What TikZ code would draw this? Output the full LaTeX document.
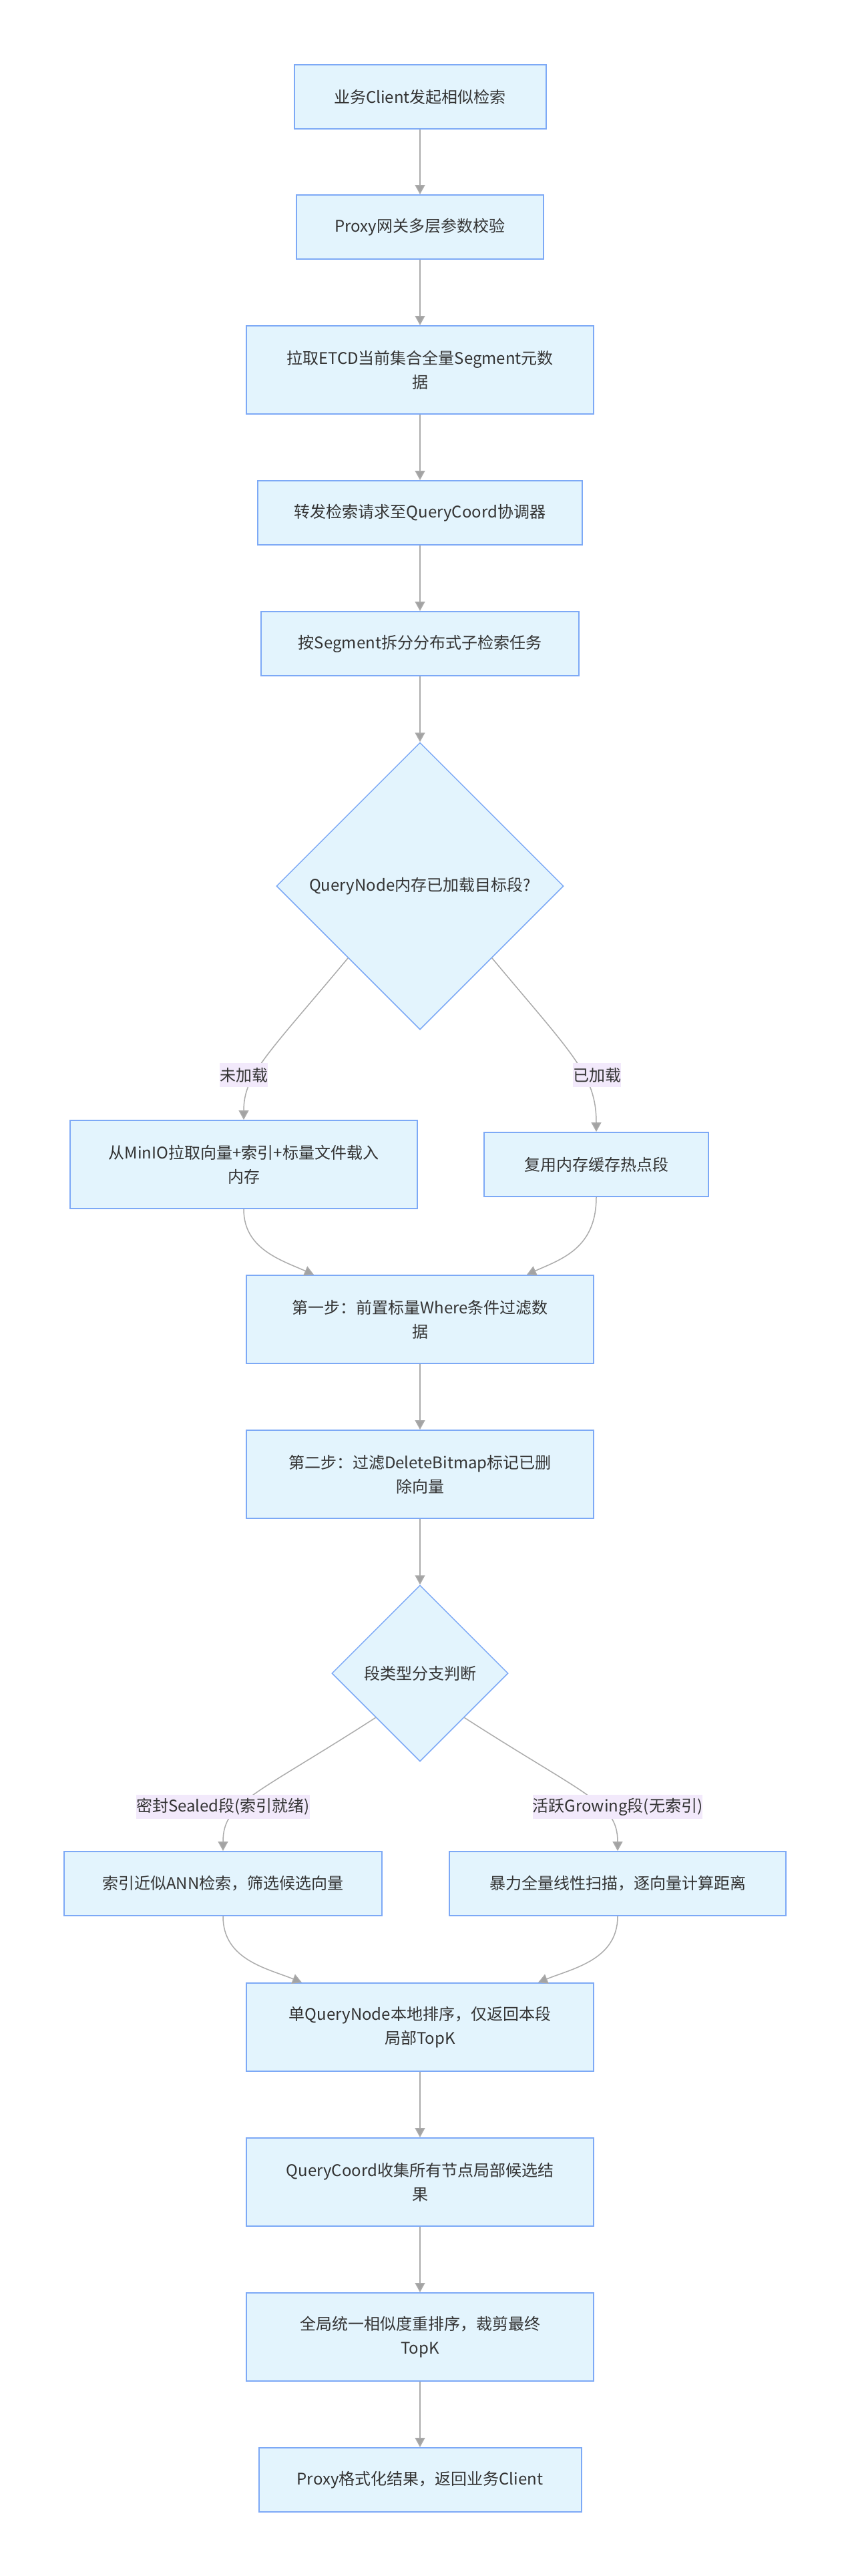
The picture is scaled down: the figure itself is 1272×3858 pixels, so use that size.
\documentclass[tikz,border=0pt]{standalone}
\usepackage{fontspec}
\setmainfont{Noto Sans CJK SC}
\usepackage{tikz}
\usetikzlibrary{arrows.meta,shapes.geometric}
\definecolor{boxfill}{HTML}{E3F4FD}
\definecolor{boxline}{HTML}{7DA9F6}
\definecolor{edgeline}{HTML}{ABABAB}
\definecolor{tipfill}{HTML}{A3A3A3}
\definecolor{labelfill}{HTML}{F2E9FB}
\definecolor{inkgrey}{HTML}{333333}
\tikzset{box/.style={draw=boxline,fill=boxfill,line width=2pt,text=inkgrey,align=center,inner sep=0pt,minimum height=96pt,font=\fontsize{24}{36}\selectfont}}
\tikzset{twoline/.style={box,minimum height=132pt}}
\tikzset{decide/.style={diamond,aspect=1,draw=boxline,fill=boxfill,line width=1.5pt,text=inkgrey,inner sep=0pt,font=\fontsize{24}{36}\selectfont}}
\tikzset{elabel/.style={fill=labelfill,text=inkgrey,inner sep=0pt,minimum height=36pt,font=\fontsize{24}{36}\selectfont}}
\tikzset{flow/.style={draw=edgeline,line width=1.5pt,-{Triangle[width=15pt,length=14pt,fill=tipfill]}}}

\begin{document}
\begin{tikzpicture}[x=1pt,y=-1pt]
\useasboundingbox (0,0) rectangle (1272,3858);
% main column
\node[box,minimum width=377pt] (client) at (629,145) {业务Client发起相似检索};
\node[box,minimum width=370pt] (proxy) at (629,340) {Proxy网关多层参数校验};
\node[twoline,minimum width=520pt] (etcd) at (629,554) {拉取ETCD当前集合全量Segment元数\\据};
\node[box,minimum width=486pt] (coord) at (629,768) {转发检索请求至QueryCoord协调器};
\node[box,minimum width=476pt] (split) at (629,964) {按Segment拆分分布式子检索任务};
\node[decide,minimum size=430pt] (loaded) at (629,1327) {QueryNode内存已加载目标段?};
% load branch
\node[twoline,minimum width=520pt] (minio) at (365,1744) {从MinIO拉取向量+索引+标量文件载入\\内存};
\node[box,minimum width=336pt] (cache) at (893,1744) {复用内存缓存热点段};
\node[twoline,minimum width=520pt] (where) at (629,1976) {第一步：前置标量Where条件过滤数\\据};
\node[twoline,minimum width=520pt] (bitmap) at (629,2208) {第二步：过滤DeleteBitmap标记已删\\除向量};
\node[decide,minimum size=264pt] (segtype) at (629,2506) {段类型分支判断};
% segment branch
\node[box,minimum width=476pt] (ann) at (334,2821) {索引近似ANN检索，筛选候选向量};
\node[box,minimum width=504pt] (brute) at (925,2821) {暴力全量线性扫描，逐向量计算距离};
\node[twoline,minimum width=520pt] (local) at (629,3036) {单QueryNode本地排序，仅返回本段\\局部TopK};
\node[twoline,minimum width=520pt] (gather) at (629,3268) {QueryCoord收集所有节点局部候选结\\果};
\node[twoline,minimum width=520pt] (rerank) at (629,3500) {全局统一相似度重排序，裁剪最终\\TopK};
\node[box,minimum width=483pt] (reply) at (629,3714) {Proxy格式化结果，返回业务Client};

\draw[flow] (client) -- (proxy);
\draw[flow] (proxy) -- (etcd);
\draw[flow] (etcd) -- (coord);
\draw[flow] (coord) -- (split);
\draw[flow] (split) -- (loaded);
\draw[flow] (loaded.south west) .. controls (400,1580) and (365,1610) .. (minio.north);
\draw[flow] (loaded.south east) .. controls (858,1580) and (893,1610) .. (cache.north);
\draw[flow] (minio.south) .. controls (365,1870) and (420,1887) .. ([xshift=-159pt]where.north);
\draw[flow] (cache.south) .. controls (893,1870) and (840,1886) .. ([xshift=160pt]where.north);
\draw[flow] (where) -- (bitmap);
\draw[flow] (bitmap) -- (segtype);
\draw[flow] (segtype.south west) .. controls (380,2690) and (334,2700) .. (ann.north);
\draw[flow] (segtype.south east) .. controls (878,2690) and (925,2700) .. (brute.north);
\draw[flow] (ann.south) .. controls (334,2935) and (400,2948) .. ([xshift=-177pt]local.north);
\draw[flow] (brute.south) .. controls (925,2935) and (858,2948) .. ([xshift=177pt]local.north);
\draw[flow] (local) -- (gather);
\draw[flow] (gather) -- (rerank);
\draw[flow] (rerank) -- (reply);

% edge labels
\node[elabel] (miss) at (365,1610) {未加载};
\node[elabel] (hit) at (894,1610) {已加载};
\node[elabel] (sealed) at (334,2706) {密封Sealed段(索引就绪)};
\node[elabel] (growing) at (925,2706) {活跃Growing段(无索引)};
\end{tikzpicture}
\end{document}
